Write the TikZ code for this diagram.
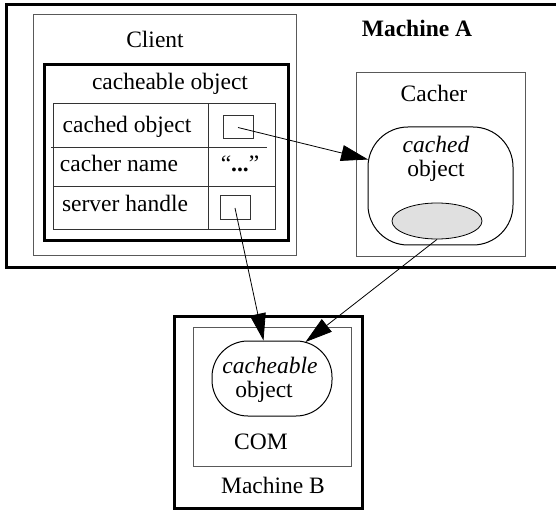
\documentclass[tikz,border=0pt]{standalone}
\usepackage{fontspec}
\setmainfont{Liberation Serif}
\usetikzlibrary{arrows.meta,fit,calc,shapes.geometric}
\begin{document}
\begin{tikzpicture}[x=1pt,y=-1pt,
  every node/.style={font=\fontsize{23.5}{28}\selectfont},
  thinbox/.style={draw=black!65, line width=1pt, inner sep=0pt},
  heavybox/.style={draw, line width=3pt, inner sep=0pt},
  cellline/.style={draw=black!80, line width=1pt},
  roundbox/.style={draw, line width=1pt, inner sep=0pt},
  lbl/.style={anchor=base, inner sep=0pt},
  conn/.style={-{Triangle[length=27pt,width=16pt]}, line width=0.8pt},
]
\clip (0,0) rectangle (556,510);
% Machine A
\node[heavybox, fit={(6,5) (575,268)}] (mA) {};
\node[lbl, font=\fontsize{23.5}{28}\selectfont\bfseries] (mAl) at (417,37) {Machine A};
% Client
\node[thinbox, fit={(33,15) (296,256)}] (client) {};
\node[lbl] (clientl) at (155,48) {Client};
\node[heavybox, fit={(44,65) (288,241)}] (cbo) {};
\node[lbl] (cbol) at (170,90) {cacheable object};
\node[cellline, inner sep=0pt, fit={(53,104) (275,230)}] (tbl) {};
\draw[cellline] (208,104) -- (208,230);
\draw[cellline] (51,148) -- (267,148);
\draw[cellline] (53,187) -- (275,187);
\node[lbl] (r1) at (127,133) {cached object};
\node[lbl] (r2) at (119,172) {cacher name};
\node[lbl] (r3) at (125,212) {server handle};
\node[lbl] (q) at (240,172) {“\textbf{...}”};
\node[cellline, inner sep=0pt, fit={(223,116) (253,139)}] (sb1) {};
\node[cellline, inner sep=0pt, fit={(220,196) (250,220)}] (sb2) {};
% Cacher
\node[thinbox, fit={(356,73) (525,257)}] (cacher) {};
\node[lbl] (cacherl) at (434,102) {Cacher};
\node[roundbox, rounded corners=40pt, fit={(368,127) (513,245)}] (cobj) {};
\node[lbl] (cobjl1) at (436,153) {\itshape cached};
\node[lbl] (cobjl2) at (436,177) {object};
\node[draw, fill=black!12, ellipse, line width=0.8pt, minimum width=90pt, minimum height=36pt, inner sep=0pt] (ell) at (437,221) {};
% Machine B
\node[heavybox, fit={(174,316) (362,508)}] (mB) {};
\node[lbl] (mBl) at (273,493) {Machine B};
\node[thinbox, fit={(193,327) (351,466)}] (com) {};
\node[lbl] (coml) at (261,449) {COM};
\node[roundbox, rounded corners=36pt, fit={(212,341) (332,416)}] (cbl) {};
\node[lbl] (cbll1) at (270,373) {\itshape cacheable};
\node[lbl] (cbll2) at (264,397) {object};
% connectors
\draw[conn] (sb1.center) -- ($(cobj.north west)+(0.6,33)$);
\draw[conn] (sb2.center) -- ($(cbl.north west)+(52,0)$);
\draw[conn] (ell.south) -- ($(cbl.north east)+(-27,1.5)$);
\end{tikzpicture}
\end{document}
